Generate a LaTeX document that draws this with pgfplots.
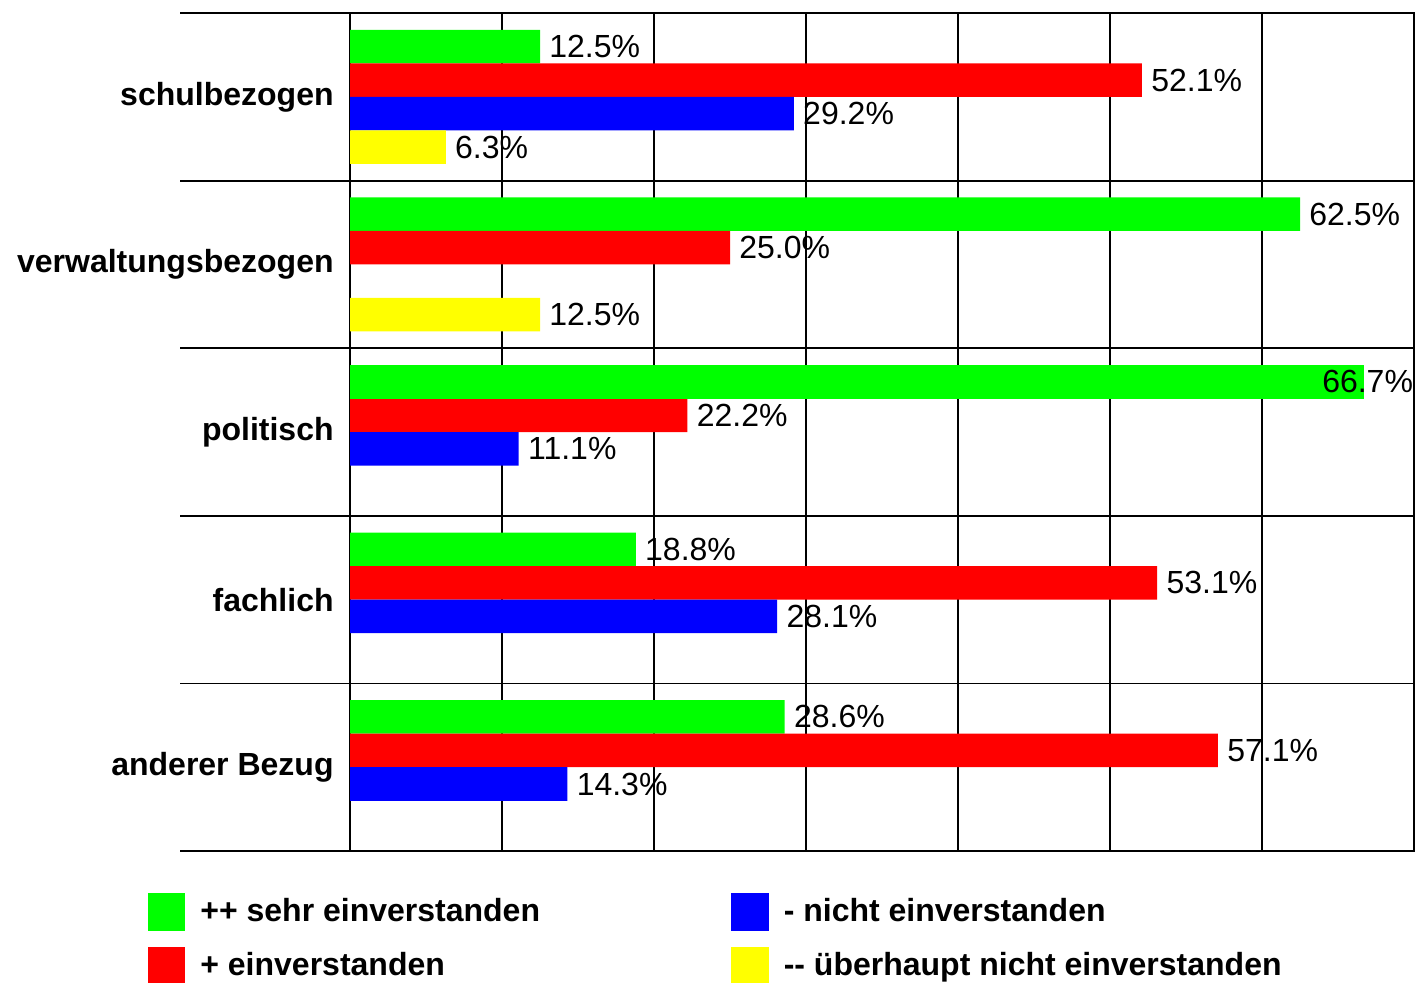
\documentclass[border=0pt]{standalone}
\usepackage{fontspec}
\setmainfont{Liberation Sans}
\usepackage{pgfplots}
\pgfplotsset{compat=1.18}
\definecolor{cgreen}{RGB}{0,255,0}
\definecolor{cred}{RGB}{255,0,0}
\definecolor{cblue}{RGB}{0,0,255}
\definecolor{cyellow}{RGB}{255,255,0}
\begin{document}
\begin{tikzpicture}
\begin{axis}[
  at={(175pt,-425.5pt)}, anchor=south west,
  width=532pt, height=419pt, scale only axis,
  xbar, bar width=0.2,
  xmin=0, xmax=70, ymin=-0.5, ymax=4.5, y dir=reverse,
  xtick={0,10,...,70}, xticklabels={}, xmajorgrids,
  ytick={0,1,2,3,4},
  yticklabels={schulbezogen,verwaltungsbezogen,politisch,fachlich,anderer Bezug},
  major tick length=0pt,
  axis line style={black, line width=0.9pt},
  grid style={black, line width=0.9pt},
  yticklabel style={font=\fontsize{16}{19}\selectfont\bfseries, inner sep=0pt, xshift=-8pt},
  clip=false,
  point meta=x,
  nodes near coords={\pgfmathprintnumber[fixed,fixed zerofill,precision=1]{\pgfplotspointmeta}\%},
  nodes near coords style={font=\fontsize{16}{19}\selectfont, anchor=west, inner sep=0pt, xshift=4.5pt, /pgf/number format/assume math mode=true},
  legend columns=2, transpose legend,
  legend style={draw=none, fill=none, inner sep=0pt, outer sep=0pt, row sep=8pt, column sep=0pt,
    at={(-0.18985,-0.0501)}, anchor=north west,
    nodes={inner sep=0pt, text height=14pt, text depth=5pt, font=\fontsize{16}{19}\selectfont\bfseries},
    cells={anchor=base west}},
  legend image code/.code={\fill[#1] (0pt,-5pt) rectangle (18.7pt,14pt);},
]
\addplot[fill=cgreen, draw=none, bar shift=-0.3] coordinates {(12.5,0) (62.5,1) (18.8,3) (28.6,4)};
\addlegendentry{\makebox[273pt][l]{\hspace*{7.5pt}++ sehr einverstanden}}
\addplot[fill=cred, draw=none, bar shift=-0.1] coordinates {(52.1,0) (25.0,1) (22.2,2) (53.1,3) (57.1,4)};
\addlegendentry{\makebox[273pt][l]{\hspace*{7.5pt}+ einverstanden}}
\addplot[fill=cblue, draw=none, bar shift=0.1] coordinates {(29.2,0) (11.1,2) (28.1,3) (14.3,4)};
\addlegendentry{\makebox[273pt][l]{\hspace*{7.5pt}- nicht einverstanden}}
\addplot[fill=cyellow, draw=none, bar shift=0.3] coordinates {(6.3,0) (12.5,1)};
\addlegendentry{\makebox[273pt][l]{\hspace*{7.5pt}-{}- überhaupt nicht einverstanden}}
\addplot[fill=cgreen, draw=none, bar shift=-0.3, forget plot,
  nodes near coords style={xshift=-25.5pt}] coordinates {(66.7,2)};
\draw[black, line width=0.9pt] (axis cs:-11.18,-0.5) -- (axis cs:70,-0.5);
\draw[black, line width=0.9pt] (axis cs:-11.18,0.5) -- (axis cs:70,0.5);
\draw[black, line width=0.9pt] (axis cs:-11.18,1.5) -- (axis cs:70,1.5);
\draw[black, line width=0.9pt] (axis cs:-11.18,2.5) -- (axis cs:70,2.5);
\draw[black, line width=0.9pt] (axis cs:-11.18,3.5) -- (axis cs:70,3.5);
\draw[black, line width=0.9pt] (axis cs:-11.18,4.5) -- (axis cs:70,4.5);
\end{axis}
\pgfresetboundingbox
\path[use as bounding box] (0pt,0pt) rectangle (708pt,-491pt);
\end{tikzpicture}
\end{document}
